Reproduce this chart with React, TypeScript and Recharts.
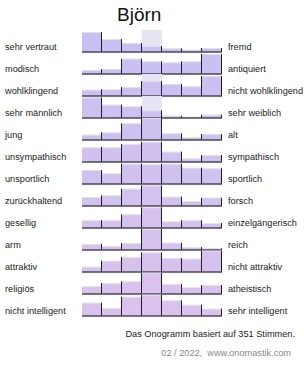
import React from "react";
import { BarChart, Bar, XAxis, YAxis, ReferenceLine } from "recharts";

// Left / right poles of each semantic pair
const leftLabels = [
  "sehr vertraut", "modisch", "wohlklingend", "sehr männlich", "jung", "unsympathisch",
  "unsportlich", "zurückhaltend", "gesellig", "arm", "attraktiv", "religiös", "nicht intelligent",
];
const rightLabels = [
  "fremd", "antiquiert", "nicht wohlklingend", "sehr weiblich", "alt", "sympathisch",
  "sportlich", "forsch", "einzelgängerisch", "reich", "nicht attraktiv", "atheistisch", "sehr intelligent",
];

// Share of votes on the 7-point scale
const vertraut = [20, 13, 9, 6, 3.7, 2.3, 4];
const modisch = [4, 5, 15.3, 12.7, 11.7, 12.7, 20];
const wohlklingend = [6.3, 6.7, 9, 15, 12, 9.7, 20];
const maennlich = [20.7, 13.3, 11.7, 7.7, 2.3, 1.3, 3.3];
const jung = [5.3, 7.7, 16.7, 22, 6.7, 3, 6];
const unsympathisch = [14.7, 14.7, 18, 20.3, 10.3, 3.7, 7];
const unsportlich = [14, 10.7, 20.3, 19.7, 20.3, 16.3, 15.7];
const zurueckhaltend = [9, 10.7, 17.3, 20.7, 9.3, 5, 8.3];
const gesellig = [7.7, 7.7, 13.7, 20.7, 6.7, 7.7, 5];
const arm = [6, 4, 7, 21, 7.3, 3, 1.7];
const attraktiv = [5.3, 11.3, 15, 19.7, 14, 13.3, 21.3];
const religioes = [8, 11, 12.7, 21.3, 10, 7, 9];
const intelligent = [13.3, 8, 19.3, 21.3, 15.7, 11.3, 7.3];

const ratings = [
  vertraut, modisch, wohlklingend, maennlich, jung, unsympathisch,
  unsportlich, zurueckhaltend, gesellig, arm, attraktiv, religioes, intelligent,
];

// shaded scale position per row (-1 = none)
const shaded = [3, -1, 3, 3, -1, -1, -1, -1, -1, -1, -1, -1, -1];

const positions = [1, 2, 3, 4, 5, 6, 7];

const FONT = "'Liberation Sans', Arial, sans-serif";
const ROW_H = 22;
const FIRST_BASE = 52;

function rowFill(i: number): string {
  const t = i / (ratings.length - 1);
  const r = Math.round(200 + (218 - 200) * t);
  const g = Math.round(192 + (194 - 192) * t);
  const b = Math.round(242 + (236 - 242) * t);
  return `rgb(${r},${g},${b})`;
}

const BarShape = (props: any) => {
  const { x, y, width, height, index, fill } = props;
  if (!height || height <= 0) return <g />;
  return (
    <g>
      <rect x={x} y={y} width={width} height={height} fill={fill} />
      <line x1={x} x2={x + width} y1={y + 0.5} y2={y + 0.5} stroke="#ffffff" strokeOpacity={0.45} />
      {index > 0 && (
        <line x1={x - 0.5} x2={x - 0.5} y1={y} y2={y + height} stroke="#1c1c34" />
      )}
      <line x1={x + width - 0.5} x2={x + width - 0.5} y1={y} y2={y + height} stroke="#1c1c34" />
    </g>
  );
};

function RowChart({ row }: { row: number }) {
  const data = positions.map((p, i) => ({ pos: p, v: ratings[row][i] }));
  const base = FIRST_BASE + ROW_H * row;
  const shade = shaded[row];
  return (
    <div style={{ position: "absolute", left: 81, top: base - ROW_H - 1, width: 143, height: 26 }}>
      <BarChart
        width={143}
        height={26}
        data={data}
        margin={{ top: 1, right: 2, bottom: 3, left: 1 }}
        barCategoryGap={0}
        style={{ overflow: "visible" }}
      >
        <XAxis dataKey="pos" hide />
        <YAxis hide domain={[0, ROW_H]} allowDataOverflow />
        <Bar
          dataKey="v"
          fill={rowFill(row)}
          isAnimationActive={false}
          shape={BarShape}
          background={(p: any) => (
            <rect
              key={`bg-${p.index}`}
              x={p.x}
              y={p.y}
              width={p.width}
              height={p.height}
              fill={p.index === shade ? "#e6e5f4" : "none"}
            />
          )}
        />
        <ReferenceLine y={0} stroke="#4a4a4a" strokeWidth={1.4} />
      </BarChart>
    </div>
  );
}

export default function App() {
  return (
    <div style={{ position: "absolute", left: 0, top: 0, width: 305, height: 370, background: "#fff" }}>
      {ratings.map((_, i) => (
        <RowChart key={i} row={i} />
      ))}
      <svg
        width={305}
        height={370}
        style={{ position: "absolute", left: 0, top: 0, pointerEvents: "none" }}
        fontFamily={FONT}
      >
        <text x={117} y={21} fontSize={19} fill="#111">Björn</text>
        {leftLabels.map((t, i) => (
          <text key={`l${i}`} x={5} y={FIRST_BASE + ROW_H * i - 2} fontSize={9.2} fill="#222">{t}</text>
        ))}
        {rightLabels.map((t, i) => (
          <text key={`r${i}`} x={228} y={FIRST_BASE + ROW_H * i - 2} fontSize={9.2} fill="#222">{t}</text>
        ))}
        <text x={295} y={337} fontSize={9.2} fill="#222" textAnchor="end">
          Das Onogramm basiert auf 351 Stimmen.
        </text>
        <text x={291} y={356} fontSize={9.2} fill="#888" textAnchor="end" style={{ whiteSpace: "pre" }}>
          {"02 / 2022,  www.onomastik.com"}
        </text>
      </svg>
    </div>
  );
}
